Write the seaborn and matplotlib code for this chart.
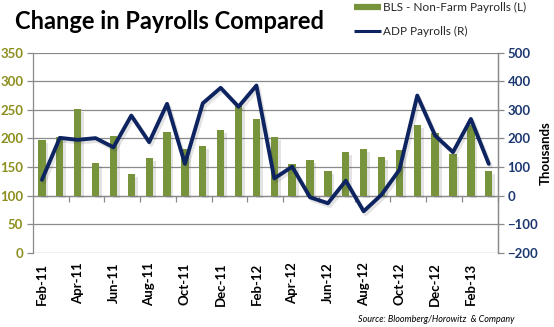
import numpy as np
import pandas as pd
import matplotlib
matplotlib.use("Agg")
import matplotlib.pyplot as plt
import matplotlib.patheffects as pe
from matplotlib.lines import Line2D
import seaborn as sns

# Monthly change in payrolls, thousands
months = ["Feb-11", "Mar-11", "Apr-11", "May-11", "Jun-11", "Jul-11", "Aug-11",
          "Sep-11", "Oct-11", "Nov-11", "Dec-11", "Jan-12", "Feb-12", "Mar-12",
          "Apr-12", "May-12", "Jun-12", "Jul-12", "Aug-12", "Sep-12", "Oct-12",
          "Nov-12", "Dec-12", "Jan-13", "Feb-13", "Mar-13"]
bls = [197, 202, 251, 157, 204, 138, 166, 211, 181, 187, 215, 258, 234, 202,
       155, 162, 143, 176, 181, 167, 180, 223, 209, 173, 223, 143]
adp = [55, 202, 195, 201, 169, 280, 187, 321, 111, 323, 377, 311, 385, 60,
       101, -6, -27, 52, -55, 3, 90, 350, 210, 152, 268, 111]

left_ticks = [0, 50, 100, 150, 200, 250, 300, 350]
right_ticks = [-200, -100, 0, 100, 200, 300, 400, 500]
bar_base = 100  # horizontal axis crosses the left scale here

GREEN = "#77933C"
NAVY = "#0E2460"
GRID = "#8A8A8A"
LEFT_TXT = "#8C8E1C"
RIGHT_TXT = "#1B3870"

sns.set_theme(style="white")
plt.rcParams["font.family"] = ["Lato", "DejaVu Sans"]

df = pd.DataFrame({"month": months, "bls": bls, "adp": adp})
df["pos"] = np.arange(len(df))

fig = plt.figure(figsize=(5.54, 3.27), dpi=100)
ax = fig.add_axes([33 / 554, 1 - 252.7 / 327, (497.7 - 33) / 554, 200 / 327])

# Bars rise from the axis crossing at 100
sns.barplot(data=df, x="pos", y=df["bls"] - bar_base, bottom=bar_base,
            color=GREEN, width=0.41, saturation=1, ax=ax, native_scale=True,
            zorder=3)
for p in ax.patches:
    p.set_path_effects([pe.SimplePatchShadow(offset=(2, -2), alpha=0.16, shadow_rgbFace="#555555"),
                        pe.Normal()])
    p.set_edgecolor("none")

ax.set_xlim(-0.5, len(months) - 0.5)
ax.set_ylim(0, 350)
ax.set_yticks(left_ticks)
ax.yaxis.grid(True, color=GRID, linewidth=0.9)
ax.set_axisbelow(True)
ax.tick_params(axis="y", which="major", direction="out", length=4, width=0.9,
               color=GRID, labelsize=9.5, labelcolor=LEFT_TXT, pad=3, left=True)
for lab in ax.get_yticklabels():
    lab.set_fontweight("bold")

ax.set_xticks(np.arange(0, len(months), 2))
ax.set_xticklabels(months[::2], rotation=90, fontsize=9.5, fontweight="bold", color="black")
ax.tick_params(axis="x", length=0, pad=7)
ax.set_xlabel("")
ax.set_ylabel("")
for side in ["top", "bottom"]:
    ax.spines[side].set_visible(False)
for side in ["left", "right"]:
    ax.spines[side].set_color(GRID)
    ax.spines[side].set_linewidth(0.9)

# Category axis line at the 100 crossing, with ticks between every second month
sec = ax.secondary_xaxis(bar_base / 350)
sec.set_xticks(np.arange(1.5, len(months), 2))
sec.tick_params(axis="x", direction="out", length=4, width=0.9, color=GRID, labelbottom=False,
                labeltop=False, bottom=True, top=False)
sec.spines["bottom"].set_color(GRID)
sec.spines["bottom"].set_linewidth(0.9)
sec.spines["top"].set_visible(False)
sec.xaxis.set_ticks_position("bottom")
sec.set_xticklabels([])

# ADP on the right-hand scale
ax2 = ax.twinx()
sns.lineplot(data=df, x="pos", y="adp", color=NAVY, linewidth=2.8, ax=ax2, zorder=4,
             path_effects=[pe.SimpleLineShadow(offset=(1.5, -2), alpha=0.15, shadow_color="#444444"),
                           pe.Normal()])
ax2.set_xlim(-0.5, len(months) - 0.5)
ax2.set_ylim(-200, 500)
ax2.set_yticks(right_ticks)
ax2.tick_params(axis="y", direction="out", length=4, width=0.9, color=GRID,
                labelsize=9.5, labelcolor=RIGHT_TXT, pad=3, right=True)
for lab in ax2.get_yticklabels():
    lab.set_fontweight("bold")
ax2.set_ylabel("Thousands", fontsize=9.5, fontweight="bold", color="black", labelpad=1)
ax2.set_xlabel("")
for side in ["top", "bottom", "left"]:
    ax2.spines[side].set_visible(False)
ax2.spines["right"].set_color(GRID)
ax2.spines["right"].set_linewidth(0.9)
ax2.grid(False)

fig.text(15 / 554, 1 - 29 / 327, "Change in Payrolls Compared", fontsize=17,
         fontweight="bold", color="black", ha="left", va="baseline")

handles = [Line2D([], [], color=GREEN, linewidth=4.5, solid_capstyle="butt"),
           Line2D([], [], color=NAVY, linewidth=2.2, solid_capstyle="butt")]
fig.legend(handles, ["BLS - Non-Farm Payrolls (L)", "ADP Payrolls (R)"],
           loc="upper left", bbox_to_anchor=(354 / 554, 1 - 2 / 327), frameon=False,
           fontsize=8.5, handlelength=2.3, handletextpad=0.15, labelspacing=1.1,
           borderpad=0, borderaxespad=0)

fig.text(514 / 554, 1 - 322 / 327, "Source: Bloomberg/Horowitz  & Company", fontsize=6.5,
         style="italic", color="black", ha="right", va="baseline")

fig.savefig("out.png", dpi=100)
